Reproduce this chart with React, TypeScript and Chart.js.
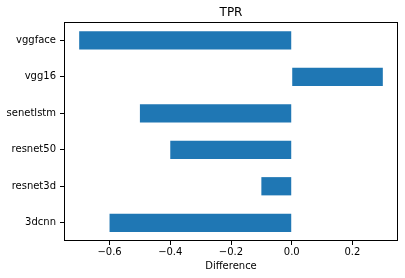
import React, { useEffect, useRef } from "react";
import { Chart, registerables } from "chart.js";

Chart.register(...registerables);

const categories = ["vggface", "vgg16", "senetlstm", "resnet50", "resnet3d", "3dcnn"];
const differences = [-0.7, 0.3, -0.5, -0.4, -0.1, -0.6];
const xTicks = [-0.6, -0.4, -0.2, 0.0, 0.2];
const chartTitle = "TPR";
const xLabel = "Difference";

const FONT = "'DejaVu Sans', sans-serif";

const fmt = (v: number) => (v < 0 ? "\u2212" + Math.abs(v).toFixed(1) : Math.abs(v).toFixed(1));

const framePlugin = {
  id: "frameAndTitle",
  afterDraw(chart: any) {
    const { ctx, chartArea } = chart;
    ctx.save();
    ctx.strokeStyle = "#000";
    ctx.lineWidth = 1;
    const l = Math.round(chartArea.left) + 0.5;
    const t = Math.round(chartArea.top) + 0.5;
    const r = Math.round(chartArea.right) - 0.5;
    const b = Math.round(chartArea.bottom) - 0.5;
    ctx.strokeRect(l, t, r - l, b - t);
    ctx.fillStyle = "#000";
    ctx.font = `12px ${FONT}`;
    ctx.textAlign = "center";
    ctx.textBaseline = "middle";
    ctx.fillText(chartTitle, (chartArea.left + chartArea.right) / 2, 12.5);
    ctx.restore();
  },
};

export default function App() {
  const ref = useRef<HTMLCanvasElement>(null);
  useEffect(() => {
    document.body.style.margin = "0";
    const chart = new Chart(ref.current!, {
      type: "bar",
      data: {
        labels: categories,
        datasets: [
          {
            data: differences,
            backgroundColor: "#1f77b4",
            borderWidth: 0,
            barPercentage: 0.5,
            categoryPercentage: 1,
          },
        ],
      },
      options: {
        indexAxis: "y",
        animation: false,
        responsive: false,
        layout: { padding: { top: 22, right: 7, left: 0, bottom: 0 } },
        plugins: { legend: { display: false }, title: { display: false }, tooltip: { enabled: false } },
        scales: {
          x: {
            type: "linear",
            min: -0.75,
            max: 0.35,
            afterBuildTicks: (scale: any) => {
              scale.ticks = xTicks.map((v) => ({ value: v }));
            },
            afterFit: (scale: any) => {
              scale.height = 37;
            },
            ticks: {
              callback: (v: any) => fmt(Number(v)),
              font: { family: FONT, size: 10 },
              color: "#000",
              padding: 1,
              maxRotation: 0,
              autoSkip: false,
            },
            grid: { drawOnChartArea: false, drawTicks: true, tickLength: 4, color: "#000" },
            border: { display: false },
            title: {
              display: true,
              text: xLabel,
              font: { family: FONT, size: 10 },
              color: "#000",
              padding: { top: 0, bottom: 6 },
            },
          },
          y: {
            type: "category",
            offset: true,
            afterFit: (scale: any) => {
              scale.width = 64;
            },
            ticks: {
              font: { family: FONT, size: 10 },
              color: "#000",
              padding: 4,
              autoSkip: false,
            },
            grid: { drawOnChartArea: false, drawTicks: true, tickLength: 4, color: "#000", offset: false },
            border: { display: false },
          },
        },
      },
      plugins: [framePlugin],
    });
    return () => chart.destroy();
  }, []);
  return (
    <div style={{ position: "absolute", left: 0, top: 0, width: 405, height: 278, background: "#fff" }}>
      <canvas ref={ref} width={405} height={278} />
    </div>
  );
}
